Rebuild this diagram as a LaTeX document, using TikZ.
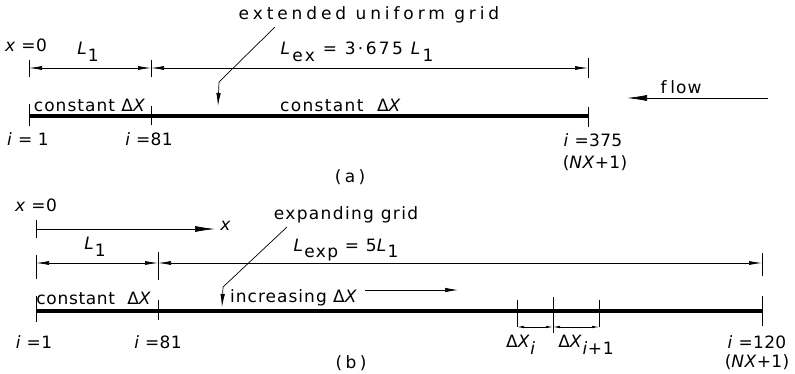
\documentclass[tikz,border=0pt]{standalone}
\usepackage{fontspec}
\setmainfont{DejaVu Sans}[Ligatures=NoCommon]
\usetikzlibrary{arrows.meta}
\newcommand\iv[1]{\textit{#1}}
\newcommand\sbx[1]{\raisebox{-0.7ex}{#1}}
\tikzset{
  lbl/.style={inner sep=0pt, font=\fontsize{17}{20}\selectfont\addfontfeature{LetterSpace=#1}},
  lbl/.default=6,
  dimline/.style={line width=0.7pt, {Latex[length=13pt,width=4pt]}-{Latex[length=13pt,width=4pt]}},
  smalldim/.style={line width=0.7pt, {Latex[length=7pt,width=2.5pt]}-{Latex[length=7pt,width=2.5pt]}},
  onearrow/.style={line width=0.7pt, -{Latex[length=13pt,width=4.5pt]}},
  bigarrow/.style={line width=0.7pt, -{Latex[length=20pt,width=6pt]}},
  bar/.style={line width=3.5pt},
  tickline/.style={line width=0.9pt},
  leader/.style={line width=0.7pt},
}
\begin{document}
\begin{tikzpicture}[x=1pt,y=-1pt]
\useasboundingbox (0,0) rectangle (795,374);
% ---------------- (a) ----------------
\coordinate (aL) at (29,68);
\coordinate (aM) at (151,68);
\coordinate (aR) at (588,68);
\draw[tickline] (29,60) -- (29,77);
\draw[tickline] (151,60) -- (151,77);
\draw[tickline] (588,58) -- (588,78);
\draw[dimline] (aL) -- (aM);
\draw[dimline] (aM) -- (aR);
\coordinate (abL) at (29,116);
\coordinate (abR) at (588,116);
\draw[bar] (abL) -- (abR);
\draw[tickline] (29,104) -- (29,126);
\draw[tickline] (151,106) -- (151,125);
\draw[tickline] (588,107) -- (588,127);
\node[lbl=2] (x0a) at (26,45) {\iv{x} =0};
\node[lbl] (L1a) at (88,52) {\iv{L}\sbx{1}};
\node[lbl=14] (Lexa) at (357,52) {\iv{L}\sbx{ex} = 3·675 \iv{L}\sbx{1}};
\node[lbl=23] (ext) at (369,15) {extended uniform grid};
\coordinate (extA) at (275,27);
\coordinate (extB) at (219,82);
\coordinate (extC) at (218,106);
\draw[leader] (extA) -- (extB);
\draw[onearrow] (extB) -- (extC);
\node[lbl=6] (ca1) at (90,105) {constant Δ\iv{X}};
\node[lbl=8] (ca2) at (341,105) {constant \ Δ\iv{X}};
\node[lbl=2] (ia1) at (28,139) {\iv{i} = 1};
\node[lbl=2] (ia81) at (149,139) {\iv{i} =81};
\node[lbl=2] (ia375) at (593,140) {\iv{i} =375};
\node[lbl=2] (nxa) at (595,163) {(\iv{NX}+1)};
\node[lbl=22] (flow) at (681,87) {f\kern4pt l\kern1pt o\kern1pt w};
\coordinate (flowS) at (768,98);
\coordinate (flowE) at (627,98);
\draw[bigarrow] (flowS) -- (flowE);
\node[lbl=20] (capa) at (350,177) {(a)};
% ---------------- (b) ----------------
\node[lbl=2] (x0b) at (36,205) {\iv{x} =0};
\coordinate (xS) at (36,229);
\coordinate (xE) at (215,229);
\draw[tickline] (36,220) -- (36,238);
\draw[bigarrow] (xS) -- (xE);
\node[lbl] (xb) at (226,226) {\iv{x}};
\coordinate (bL) at (36,263);
\coordinate (bM) at (158,263);
\coordinate (bR) at (762,263);
\draw[tickline] (36,255) -- (36,279);
\draw[tickline] (158,252) -- (158,280);
\draw[tickline] (762,253) -- (762,276);
\draw[dimline] (bL) -- (bM);
\draw[dimline] (bM) -- (bR);
\node[lbl] (L1b) at (95,247) {\iv{L}\sbx{1}};
\node[lbl=8] (Lexp) at (346,250) {\iv{L}\sbx{exp} = 5\iv{L}\sbx{1}};
\node[lbl=8] (expg) at (346,215) {expanding grid};
\coordinate (expA) at (287,227);
\coordinate (expB) at (223,287);
\coordinate (expC) at (222,307);
\draw[leader] (expA) -- (expB);
\draw[onearrow] (expB) -- (expC);
\coordinate (bbL) at (36,311);
\coordinate (bbR) at (762,311);
\draw[bar] (bbL) -- (bbR);
\draw[tickline] (36,296) -- (36,322);
\draw[tickline] (158,300) -- (158,320);
\draw[tickline] (517,300) -- (517,327);
\draw[tickline] (553,297) -- (553,333);
\draw[tickline] (599,300) -- (599,327);
\draw[tickline] (762,296) -- (762,326);
\coordinate (d1) at (517,327);
\coordinate (d2) at (553,327);
\coordinate (d3) at (599,327);
\draw[smalldim] (d1) -- (d2);
\draw[smalldim] (d2) -- (d3);
\node[lbl=4] (cb) at (94,298) {constant \ Δ\iv{X}};
\node[lbl=6] (incr) at (294,298) {increasing Δ\iv{X}};
\coordinate (incS) at (365,290);
\coordinate (incE) at (458,290);
\draw[onearrow] (incS) -- (incE);
\node[lbl=2] (ib1) at (34,342) {\iv{i} =1};
\node[lbl=2] (ib81) at (158,342) {\iv{i} =81};
\node[lbl=4] (dxi) at (521,345) {Δ\iv{X}\sbx{\iv{i}}};
\node[lbl=4] (dxi1) at (586,345) {Δ\iv{X}\sbx{\iv{i}+1}};
\node[lbl=2] (ib120) at (757,342) {\iv{i} =120};
\node[lbl=2] (nxb) at (757,362) {(\iv{NX}+1)};
\node[lbl=20] (capb) at (351,363) {(b)};
\end{tikzpicture}
\end{document}
